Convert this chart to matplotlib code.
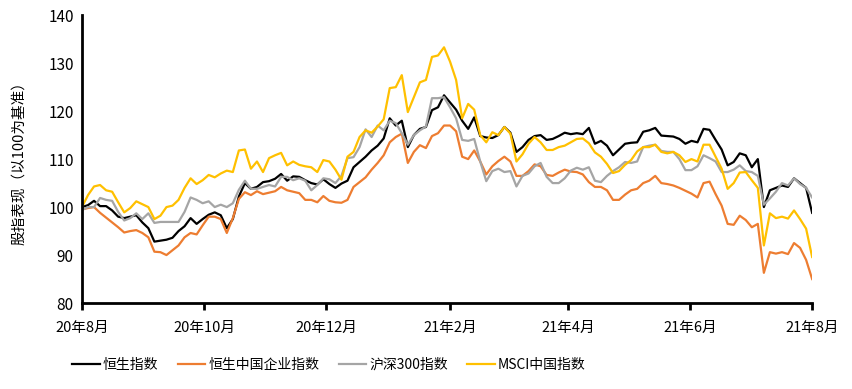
import numpy as np
import pandas as pd
import matplotlib
matplotlib.use('Agg')
from matplotlib import pyplot as plt

plt.rcParams['font.family'] = ['Noto Sans CJK SC', 'DejaVu Sans']

# 日期：约每3天一个点
dates = pd.date_range('2020-08-01', '2021-08-01', periods=122)

hsi = [100, 100.4, 101.3, 100.2, 100.2, 99.3, 98, 97.7, 98, 98.3,
       96.8, 95.6, 92.8, 93, 93.2, 93.6, 95, 96, 97.7, 96.5,
       97.5, 98.4, 98.9, 98.3, 95.6, 97.5, 102.2, 105, 103.8, 104.2,
       105.2, 105.4, 105.9, 106.9, 105.5, 106.4, 106.3, 105.6, 105, 104.7,
       105.8, 104.8, 104, 104.9, 105.5, 108.3, 109.4, 110.5, 111.8, 112.8,
       114.3, 118.5, 117, 118, 112.5, 115, 116.3, 116.7, 120.2, 120.8,
       123.3, 121.8, 120.3, 118, 116.3, 118.7, 114.8, 114.5, 114.4, 115,
       116.7, 115.5, 111.5, 112.5, 114, 114.8, 115, 114, 114.2, 114.8,
       115.5, 115.2, 115.4, 115.2, 116.5, 113.2, 113.8, 112.8, 110.8, 112,
       113.2, 113.4, 113.5, 115.7, 116, 116.5, 114.9, 114.8, 114.7, 114.2,
       113.2, 113.8, 113.5, 116.3, 116.1, 114, 112, 108.7, 109.4, 111.2,
       110.8, 108.3, 110, 100, 103.5, 104, 104.5, 104.2, 106, 105,
       104, 98.8]

hscei = [99.5, 99.8, 100, 98.8, 97.8, 96.8, 95.8, 94.7, 95, 95.2,
         94.6, 93.7, 90.7, 90.6, 90, 91, 92, 93.7, 94.6, 94.3,
         96.2, 98, 98, 97.5, 94.6, 97.7, 101.7, 103.1, 102.5, 103.3,
         102.7, 103, 103.3, 104.2, 103.5, 103.2, 102.9, 101.5, 101.5, 101,
         102.3, 101.3, 101, 100.9, 101.5, 104.2, 105.2, 106.2, 107.8, 109.2,
         110.8, 113.5, 114.6, 115.3, 109.2, 111.5, 112.9, 112.3, 114.8, 115.4,
         117, 117, 115.8, 110.5, 110, 111.8, 109.5, 106.8, 108.5, 109.6,
         110.5, 109.5, 106.5, 106.5, 107.5, 108.9, 108.5, 106.7, 106.5, 107.2,
         107.8, 107.4, 107.3, 106.8, 105.2, 104.2, 104.2, 103.5, 101.5, 101.5,
         102.6, 103.5, 103.8, 105, 105.5, 106.5, 105, 104.8, 104.5, 104,
         103.4, 102.8, 102, 105, 105.3, 102.7, 100.3, 96.5, 96.3, 98.2,
         97.3, 95.8, 96.5, 86.3, 90.6, 90.3, 90.6, 90.2, 92.5, 91.5,
         89, 85]

csi300 = [99.4, 100, 100, 101.9, 101.5, 101.3, 99, 97.2, 97.7, 98.7,
          97.5, 98.7, 96.7, 96.9, 96.9, 96.9, 96.9, 99, 102, 101.5,
          100.8, 101.2, 100, 100.5, 100, 100.8, 103.6, 105.5, 103.8, 103.8,
          104.2, 104.6, 104.3, 106.3, 106.3, 105.6, 106, 105.5, 103.5, 104.6,
          106, 105.8, 105, 106.5, 110.2, 110.4, 112.5, 116.2, 114.6, 117,
          116, 118, 117.5, 115.4, 113, 115, 116, 116.8, 122.7, 122.7,
          122.9, 120.8, 118.5, 114, 113.8, 114.2, 109.5, 105.4, 107.5, 108,
          107.3, 107.5, 104.3, 106.5, 107, 108.5, 109.2, 106.3, 105, 105,
          106, 107.6, 108.2, 107.8, 108.3, 105.5, 105.2, 106.5, 107.5, 108.3,
          109.4, 109.2, 109.5, 112.5, 112.8, 113, 111.7, 111.5, 111.5, 110,
          107.7, 107.7, 108.5, 110.8, 110.2, 109.5, 107.3, 107.3, 107.8, 108.7,
          107.5, 107.3, 106.5, 100.5, 101.8, 103.2, 105, 104.5, 106, 104.8,
          104, 102]

msci = [100, 102.5, 104.3, 104.6, 103.5, 103.2, 101, 98.9, 99.8, 101.2,
        100.6, 100, 97.5, 98.2, 100, 100.3, 101.5, 104, 106, 104.8,
        105.6, 106.7, 106.2, 107, 107.6, 107.3, 111.8, 112, 108, 109.5,
        107.3, 110.2, 110.8, 111.3, 108.7, 109.5, 108.8, 108.5, 108.3, 107.3,
        109.8, 109.5, 107.8, 105.7, 110.5, 111.5, 114.6, 116, 115.5, 116.8,
        118.3, 124.8, 125, 127.5, 119.8, 122.9, 126, 126.5, 131.3, 131.6,
        133.3, 130.3, 126.5, 118.5, 121.5, 120.3, 115, 113.5, 115.6, 115,
        116.7, 115.3, 109.5, 111, 113.2, 114.6, 113.5, 111.9, 111.9, 112.5,
        112.8, 113.5, 114.2, 114.3, 113.3, 111.4, 110.5, 109, 107.1, 107.5,
        108.8, 109.8, 111.6, 112.5, 112.5, 113, 111.5, 111.2, 111.5, 110.8,
        109.4, 110, 109.5, 113, 113, 110.5, 108, 103.8, 105, 107.2,
        107.3, 105.6, 104, 92, 98.7, 97.7, 98, 97.6, 99.3, 97.5,
        95.5, 89.6]

names = ['恒生指数', '恒生中国企业指数', '沪深300指数', 'MSCI中国指数']
colors = ['#000000', '#ED7D31', '#A5A5A5', '#FFC000']
tick_dates = pd.date_range('2020-08-01', '2021-08-01', freq='2MS')
tick_labels = ['20年8月', '20年10月', '20年12月', '21年2月', '21年4月', '21年6月', '21年8月']

fig = plt.figure(figsize=(8.53, 3.89), dpi=100)
ax = fig.add_axes([0.0961, 0.221, 0.856, 0.740])

for s, name, c in zip([hsi, hscei, csi300, msci], names, colors):
    ax.plot(dates, s, color=c, lw=1.6, label=name)

ax.set_ylim(80, 140)
ax.set_yticks(np.arange(80, 141, 10))
ax.set_xlim(pd.Timestamp('2020-08-01'), pd.Timestamp('2021-08-01'))
ax.set_xticks(tick_dates)
ax.set_xticklabels(tick_labels)
ax.tick_params(axis='y', length=0, labelsize=11, pad=6)
ax.tick_params(axis='x', length=5, width=2, direction='out', labelsize=10.5, pad=8)

for sp in ['top', 'right']:
    ax.spines[sp].set_visible(False)
for sp in ['left', 'bottom']:
    ax.spines[sp].set_linewidth(2)

ax.set_ylabel('股指表现（以100为基准）', fontsize=10.5, labelpad=16)

fig.legend(loc='center left', bbox_to_anchor=(0.07, 0.062), ncol=4, frameon=False,
           fontsize=10, handlelength=2.0, handletextpad=0.2, columnspacing=1.4)

fig.savefig('out.png', dpi=100)
